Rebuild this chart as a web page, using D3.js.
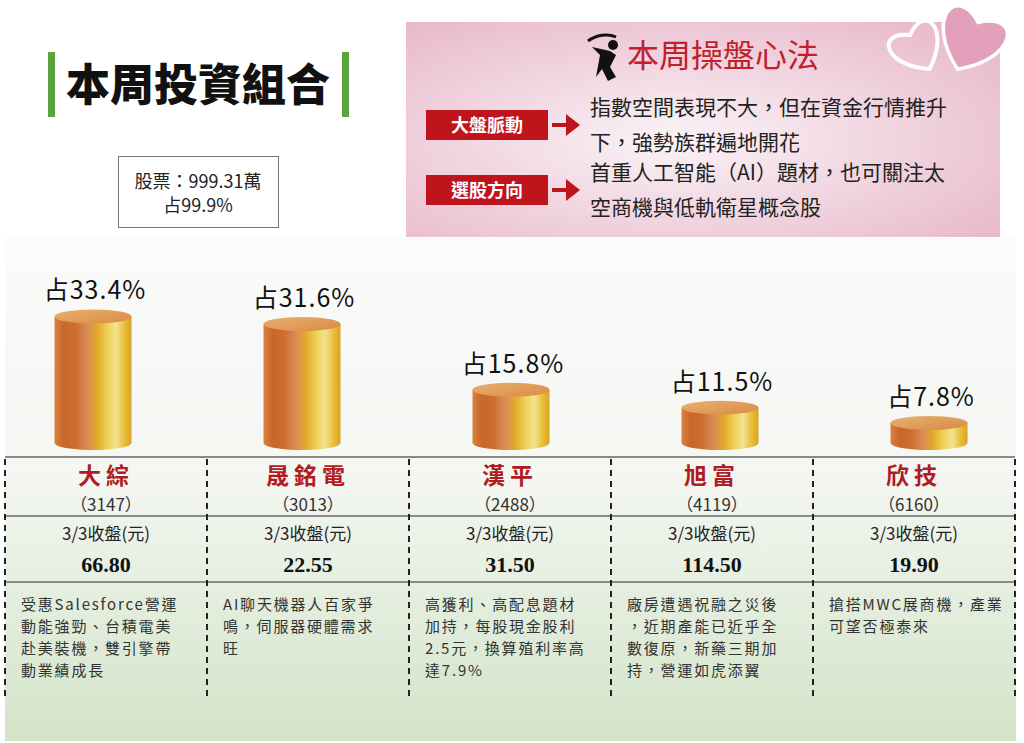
<!DOCTYPE html>
<html>
<head>
<meta charset="utf-8">
<script src="https://cdn.jsdelivr.net/npm/d3@7"></script>
<style>
  body { margin: 0; background: #fff; }
  svg { display: block; font-family: "Noto Sans CJK TC", "Noto Sans", sans-serif; }
</style>
</head>
<body>
<div id="chart"></div>
<script>
// stock data
const names = ["大綜", "晟銘電", "漢平", "旭富", "欣技"];
const codes = ["3147", "3013", "2488", "4119", "6160"];
const shares = [33.4, 31.6, 15.8, 11.5, 7.8];
const closes = ["66.80", "22.55", "31.50", "114.50", "19.90"];
const closeLabel = "3/3收盤(元)";
const notes = [
    ["受惠Salesforce營運", "動能強勁、台積電美", "赴美裝機，雙引擎帶", "動業績成長"],
    ["AI聊天機器人百家爭", "鳴，伺服器硬體需求", "旺"],
    ["高獲利、高配息題材", "加持，每股現金股利", "2.5元，換算殖利率高", "達7.9%"],
    ["廠房遭遇祝融之災後", "，近期產能已近乎全", "數復原，新藥三期加", "持，營運如虎添翼"],
    ["搶搭MWC展商機，產業", "可望否極泰來"]
];

// header texts
const title = "本周投資組合";
const stockBox = ["股票：999.31萬", "占99.9%"];
const tipTitle = "本周操盤心法";
const tipTags = ["大盤脈動", "選股方向"];
const tipLines = [
    ["指數空間表現不大，但在資金行情推升", "下，強勢族群遍地開花"],
    ["首重人工智能（AI）題材，也可關注太", "空商機與低軌衛星概念股"]
];

let width = 1024,
    height = 743;

let svg = d3.select("#chart").append("svg")
    .attr("width", width)
    .attr("height", height);

let defs = svg.append("defs");

// panel background gradient
let bg = defs.append("linearGradient").attr("id", "panelGrad")
    .attr("x1", 0).attr("y1", 0).attr("x2", 0).attr("y2", 1);
bg.append("stop").attr("offset", "0%").attr("stop-color", "#fbfbfa");
bg.append("stop").attr("offset", "45%").attr("stop-color", "#f5f7f3");
bg.append("stop").attr("offset", "100%").attr("stop-color", "#d2e4c8");

// pink box gradient
let pk = defs.append("radialGradient").attr("id", "pinkGrad")
    .attr("cx", "45%").attr("cy", "55%").attr("r", "70%");
pk.append("stop").attr("offset", "0%").attr("stop-color", "#faf3f6");
pk.append("stop").attr("offset", "55%").attr("stop-color", "#f0d3df");
pk.append("stop").attr("offset", "100%").attr("stop-color", "#e9b9cb");

// cylinder body gradient
let cg = defs.append("linearGradient").attr("id", "cylGrad")
    .attr("x1", 0).attr("y1", 0).attr("x2", 1).attr("y2", 0);
[["0%", "#d9823e"], ["12%", "#c9662a"], ["28%", "#cf6e31"], ["42%", "#d98c58"],
 ["55%", "#e3a82a"], ["68%", "#edd055"], ["80%", "#f4e290"], ["92%", "#e7bc32"], ["100%", "#d8a225"]]
    .forEach(s => cg.append("stop").attr("offset", s[0]).attr("stop-color", s[1]));

let tg = defs.append("linearGradient").attr("id", "topGrad")
    .attr("x1", 0).attr("y1", 0).attr("x2", 1).attr("y2", 1);
tg.append("stop").attr("offset", "0%").attr("stop-color", "#e9b070");
tg.append("stop").attr("offset", "100%").attr("stop-color", "#d98a45");

// ---------- top left: title ----------
svg.append("rect").attr("x", 48).attr("y", 52).attr("width", 7).attr("height", 65).attr("fill", "#5ba43d");
svg.append("rect").attr("x", 342).attr("y", 52).attr("width", 7).attr("height", 65).attr("fill", "#5ba43d");
svg.append("text")
    .attr("x", 198).attr("y", 101)
    .attr("text-anchor", "middle")
    .attr("font-size", 44)
    .attr("font-weight", 900)
    .attr("fill", "#111")
    .text(title);

svg.append("rect")
    .attr("x", 118.5).attr("y", 156.5).attr("width", 160).attr("height", 71)
    .attr("fill", "#fff").attr("stroke", "#777");
svg.selectAll(".stockbox").data(stockBox).enter().append("text")
    .attr("x", 198)
    .attr("y", (d, i) => 188 + i * 24)
    .attr("text-anchor", "middle")
    .attr("font-size", 18)
    .attr("fill", "#222")
    .text(d => d);

// ---------- top right: tips box ----------
svg.append("rect")
    .attr("x", 406).attr("y", 22).attr("width", 594).attr("height", 215)
    .attr("fill", "url(#pinkGrad)");

// hearts
function heart(g, cx, cy, s, rot, fill, stroke, sw) {
    g.append("path")
        .attr("d", "M0,22 C-34,0 -24,-30 0,-12 C24,-30 34,0 0,22 Z")
        .attr("transform", "translate(" + cx + "," + cy + ") rotate(" + rot + ") scale(" + s + ")")
        .attr("fill", fill)
        .attr("stroke", stroke)
        .attr("stroke-width", sw / s);
}
let hearts = svg.append("g");
heart(hearts, 917, 47, 1.15, -30, "none", "#fff", 4);
heart(hearts, 971, 39, 1.5, 24, "#e2a0bb", "#fff", 3.5);

// golfer icon
let golfer = svg.append("g").attr("transform", "translate(586,33)");
golfer.append("path")
    .attr("d", "M2,8 C10,2 22,0 30,4")
    .attr("fill", "none").attr("stroke", "#111").attr("stroke-width", 3);
golfer.append("circle").attr("cx", 27).attr("cy", 12).attr("r", 5).attr("fill", "#111");
golfer.append("path")
    .attr("d", "M6,14 L24,18 L30,22 L24,34 L30,44 L22,48 L16,36 L10,44 L14,22 Z")
    .attr("fill", "#111");

svg.append("text")
    .attr("x", 627).attr("y", 67)
    .attr("font-size", 32)
    .attr("fill", "#c0212b")
    .text(tipTitle);

let tipY = [125, 190];
let tips = svg.selectAll(".tip").data(tipTags).enter().append("g")
    .attr("transform", (d, i) => "translate(0," + tipY[i] + ")");
tips.append("rect")
    .attr("x", 426).attr("y", -15).attr("width", 122).attr("height", 30)
    .attr("fill", "#c0141d");
tips.append("text")
    .attr("x", 487).attr("y", 7)
    .attr("text-anchor", "middle")
    .attr("font-size", 18)
    .attr("font-weight", 700)
    .attr("fill", "#fff")
    .text(d => d);
tips.append("line")
    .attr("x1", 552).attr("x2", 570).attr("y1", 0).attr("y2", 0)
    .attr("stroke", "#c0141d").attr("stroke-width", 4);
tips.append("path")
    .attr("d", "M566,-11 L580,0 L566,11 Z")
    .attr("fill", "#c0141d");
tips.each(function (d, i) {
    d3.select(this).selectAll(".line").data(tipLines[i]).enter().append("text")
        .attr("x", 590)
        .attr("y", (t, j) => -10 + j * 35)
        .attr("font-size", 21)
        .attr("fill", "#222")
        .text(t => t);
});

// ---------- bottom panel ----------
svg.append("rect")
    .attr("x", 5).attr("y", 238).attr("width", 1011).attr("height", 503)
    .attr("fill", "url(#panelGrad)");

// scales
let baseY = 443;
let y = d3.scaleLinear().domain([3, 34]).range([baseY, 314]);
let xc = d3.scalePoint().domain(names).range([93, 929]);
let xt = d3.scaleBand().domain(names).range([5, 1015]);
let cw = 77, ry = 7;

let cyl = svg.selectAll(".cyl").data(names).enter().append("g")
    .attr("class", "cyl")
    .attr("transform", d => "translate(" + xc(d) + ",0)");

cyl.append("path")
    .attr("d", (d, i) => {
        let top = y(shares[i]);
        return "M" + (-cw / 2) + "," + top +
            " L" + (-cw / 2) + "," + baseY +
            " A" + (cw / 2) + "," + ry + " 0 0 0 " + (cw / 2) + "," + baseY +
            " L" + (cw / 2) + "," + top + " Z";
    })
    .attr("fill", "url(#cylGrad)");
cyl.append("ellipse")
    .attr("cx", 0)
    .attr("cy", (d, i) => y(shares[i]))
    .attr("rx", cw / 2).attr("ry", ry)
    .attr("fill", "url(#topGrad)");
cyl.append("text")
    .attr("x", 2)
    .attr("y", (d, i) => y(shares[i]) - 17)
    .attr("text-anchor", "middle")
    .attr("font-size", 25)
    .attr("letter-spacing", 1)
    .attr("fill", "#111")
    .text((d, i) => "占" + shares[i] + "%");

// table lines
let rows = [457, 516, 582];
svg.selectAll(".hline").data(rows).enter().append("line")
    .attr("x1", 5).attr("x2", 1015)
    .attr("y1", d => d).attr("y2", d => d)
    .attr("stroke", "#8a8a8a").attr("stroke-width", 2);

let vx = names.map(d => xt(d)).concat([1015]);
svg.selectAll(".vline").data(vx).enter().append("line")
    .attr("x1", d => d).attr("x2", d => d)
    .attr("y1", 459).attr("y2", 697)
    .attr("stroke", "#222").attr("stroke-width", 2)
    .attr("stroke-dasharray", "6,5");

// table cells
let cell = svg.selectAll(".cell").data(names).enter().append("g")
    .attr("transform", d => "translate(" + (xt(d) + xt.bandwidth() / 2) + ",0)");

cell.append("text")
    .attr("y", 484)
    .attr("text-anchor", "middle")
    .attr("font-size", 23)
    .attr("font-weight", 700)
    .attr("letter-spacing", 5)
    .attr("fill", "#b01c22")
    .text(d => d);
cell.append("text")
    .attr("y", 511)
    .attr("text-anchor", "middle")
    .attr("font-size", 17)
    .attr("fill", "#333")
    .text((d, i) => "（" + codes[i] + "）");
cell.append("text")
    .attr("y", 540)
    .attr("text-anchor", "middle")
    .attr("font-size", 17)
    .attr("fill", "#222")
    .text(closeLabel);
cell.append("text")
    .attr("y", 572)
    .attr("text-anchor", "middle")
    .attr("font-family", "'Liberation Serif', 'Times New Roman', serif")
    .attr("font-size", 22)
    .attr("font-weight", 700)
    .attr("fill", "#111")
    .text((d, i) => closes[i]);

cell.each(function (d, i) {
    d3.select(this).selectAll(".note").data(notes[i]).enter().append("text")
        .attr("x", -xt.bandwidth() / 2 + 16)
        .attr("y", (t, j) => 610 + j * 22)
        .attr("font-size", 15)
        .attr("letter-spacing", 1.8)
        .attr("fill", "#333")
        .text(t => t);
});
</script>
</body>
</html>
